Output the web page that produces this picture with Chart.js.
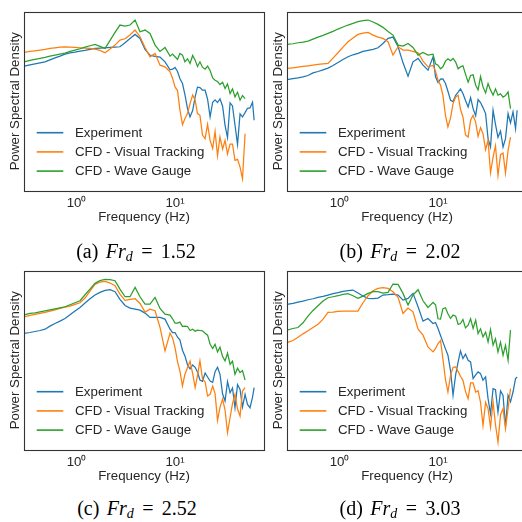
<!DOCTYPE html>
<html>
<head>
<meta charset="utf-8">
<script src="https://cdn.jsdelivr.net/npm/chart.js@4.4.1/dist/chart.umd.min.js"></script>
<style>
  html, body { margin: 0; padding: 0; background: #fff; overflow: hidden; width: 522px; height: 522px; }
  #wrap { position: relative; width: 522px; height: 522px; overflow: hidden; }
  canvas { position: absolute; }
  .cap { position: absolute; width: 220px; text-align: center; font-family: "Liberation Serif", "Times New Roman", serif;
         font-size: 20px; line-height: 22px; height: 22px; color: #000; white-space: nowrap; }
  .cap sub { font-size: 0.7em; vertical-align: -0.2em; line-height: 0; }
  .cap .eq { margin: 0 0.42em; }
  .cap .lbl { margin-right: 0.12em; }
</style>
</head>
<body>
<div id="wrap">
  <canvas id="cA" width="272" height="232" style="left:0px;top:0px"></canvas>
  <canvas id="cB" width="272" height="232" style="left:263px;top:0px"></canvas>
  <canvas id="cC" width="272" height="232" style="left:0px;top:259px"></canvas>
  <canvas id="cD" width="272" height="232" style="left:263px;top:259px"></canvas>
</div>
<script>
// ---------------- data ----------------
const seriesLabels = ['Experiment', 'CFD - Visual Tracking', 'CFD - Wave Gauge'];
const panelLetters = ['a', 'b', 'c', 'd'];
const frValues = ['1.52', '2.02', '2.52', '3.03'];
const xTickValues = [1, 10];
const xTickLabels = ['10\u2070', '10\u00B9'];

// frequency (Hz), shared by all panels
const freq = [0.293,0.337,0.379,0.426,0.479,0.538,0.605,0.680,0.764,0.859,
  0.965,1.085,1.22,1.37,1.54,1.73,1.95,2.19,2.46,2.76,
  3.11,3.49,3.93,4.41,4.96,5.57,6.27,7.04,7.91,8.90,
  9.43,10.0,10.6,11.2,11.9,12.6,13.4,14.2,15.1,16.0,
  16.9,17.9,19.0,20.2,21.4,22.7,24.1,25.5,27.0,28.6,
  30.4,32.2,34.1,36.2,38.3,40.6,43.1,45.7,48.4,51.4,
  54.4,57.7,61.2,63.5];

// PSD, relative log units
const expA = [37.2,37.6,37.9,38.2,38.5,39.1,39.7,40.2,40.8,41.2,41.4,41.7,41.9,42.2,42.5,42.6,42.7,42.8,42.9,43.0,
  44.2,45.5,46.7,45.5,42.2,40.5,40.1,39.9,38.5,36.1,36.3,36.8,35.6,33.5,32.0,28.7,24.4,22.0,23.9,28.0,
  30.9,30.8,30.0,30.0,27.3,22.0,26.4,27.1,26.3,27.4,25.2,19.5,15.8,26.2,25.3,19.6,13.8,22.9,22.0,23.3,
  24.6,24.7,26.4,21.0];
const visA = [41.3,41.6,41.8,42.0,42.2,42.5,42.7,42.9,43.0,42.9,42.8,42.7,42.6,42.5,42.3,41.9,41.2,42.3,43.5,45.0,
  45.4,46.5,48.0,46.0,42.8,40.0,41.0,37.5,37.0,35.5,33.6,31.0,29.9,24.2,19.7,21.5,23.1,26.0,28.6,27.0,
  23.0,22.5,16.6,15.5,19.8,15.0,12.6,17.7,10.4,16.0,12.4,15.0,10.9,13.9,13.9,9.0,9.3,7.0,3.5,17.0,
  null,null,null,null];
const gaugeA = [38.5,38.9,39.2,39.5,39.8,40.2,40.5,40.8,41.1,41.6,42.0,42.4,42.9,43.3,43.7,43.1,42.5,44.9,47.3,49.5,
  49.2,49.5,51.0,47.5,48.0,47.0,43.5,41.6,42.8,40.2,40.8,40.0,39.2,41.0,40.5,38.5,39.4,38.0,40.4,39.0,
  37.1,38.5,36.9,36.3,37.2,35.9,33.7,33.0,32.6,31.7,32.4,30.5,31.9,29.0,30.4,28.0,29.4,27.0,28.4,27.5,
  null,null,null,null];

const expB = [33.2,33.5,33.7,34.0,34.4,35.2,35.6,36.1,36.6,37.4,38.3,39.2,40.0,40.6,41.0,41.6,41.9,42.2,42.7,44.0,
  45.5,45.9,43.0,38.2,34.2,38.5,39.5,37.5,36.0,40.0,34.0,32.3,33.3,33.4,32.0,29.7,27.0,26.6,28.5,29.4,
  30.4,29.0,26.9,25.0,27.8,24.5,22.4,27.2,26.3,24.8,23.0,15.5,13.0,24.0,19.8,15.9,17.8,13.0,15.5,23.0,
  20.2,23.5,18.5,24.0];
const visB = [36.5,36.7,36.9,37.1,37.3,37.5,37.7,37.9,38.0,39.6,41.2,42.9,44.5,45.6,46.7,47.1,47.3,46.5,45.9,45.5,
  44.5,40.5,43.0,42.0,42.0,41.6,41.2,38.7,37.0,37.4,35.7,33.0,31.5,28.5,22.5,19.0,21.7,26.0,28.0,28.5,
  24.3,22.0,16.6,16.0,21.0,22.5,20.4,16.2,18.8,17.0,12.2,15.0,5.3,10.0,13.4,4.5,10.7,11.2,5.2,12.0,
  16.0,null,null,null];
const gaugeB = [43.7,43.9,44.2,44.4,44.7,45.3,45.9,46.4,47.0,47.6,48.3,48.9,49.5,50.0,50.5,50.8,51.0,50.4,49.7,48.8,
  47.6,46.5,43.5,43.2,44.0,42.8,40.5,41.3,40.5,40.8,37.9,37.5,36.4,37.0,38.7,39.4,38.8,39.5,38.4,36.4,
  37.0,37.3,34.8,32.4,34.4,34.6,31.5,30.1,34.1,31.0,29.2,32.0,30.1,28.5,30.4,28.5,28.9,27.9,28.4,29.5,
  24.5,null,null,null];

const expC = [34.7,35.0,35.3,35.6,36.0,36.9,37.7,38.4,39.2,40.3,41.4,42.5,43.8,45.1,46.2,47.0,47.6,47.8,47.2,44.9,
  43.1,42.3,42.0,41.7,40.8,39.5,39.5,39.5,39.0,36.0,35.0,35.0,33.6,32.8,29.7,28.0,25.3,24.1,25.3,24.6,
  23.2,20.8,20.4,22.9,21.7,20.5,20.1,23.3,24.6,22.5,16.6,14.5,20.3,17.0,18.4,12.5,19.4,18.0,12.7,16.5,
  13.5,12.5,15.7,18.5];
const visC = [39.7,40.1,40.4,40.7,41.0,41.4,41.8,42.2,42.6,42.9,43.4,43.9,45.3,47.4,49.4,50.1,50.3,49.8,49.0,46.5,
  44.6,44.9,45.1,43.7,41.1,42.0,41.5,36.5,29.5,34.8,33.4,30.5,26.3,23.5,19.0,22.5,24.5,26.4,22.7,18.5,
  22.1,26.5,21.2,20.2,16.0,16.5,19.0,16.7,8.7,12.6,15.1,11.8,5.0,9.5,13.7,16.5,12.1,10.0,17.5,18.5,
  null,null,null,null];
const gaugeC = [40.3,40.7,40.9,41.2,41.5,41.8,42.1,42.4,42.7,43.3,43.9,44.5,46.3,48.0,49.7,50.5,50.9,50.8,50.5,48.0,
  45.7,45.7,48.5,45.7,43.5,43.5,45.5,42.2,40.5,40.2,39.1,37.8,37.8,38.1,36.8,36.9,36.8,35.6,36.0,35.4,
  35.7,35.6,35.5,34.8,34.2,31.5,30.2,31.5,29.2,30.6,27.8,26.5,28.8,25.5,26.4,22.5,24.3,23.0,23.6,20.8,
  null,null,null,null];

const expD = [43.4,43.7,44.1,44.4,44.8,45.1,45.5,45.8,46.2,46.6,46.9,47.3,47.5,47.7,46.8,45.9,45.2,45.1,45.3,46.2,
  46.3,46.5,46.2,44.7,45.2,46.7,42.7,38.4,39.2,37.7,38.0,36.2,34.1,32.2,30.1,28.2,23.5,16.2,22.4,26.2,
  29.5,27.2,28.5,26.7,26.2,21.2,22.3,23.2,22.7,20.7,21.7,15.2,10.7,18.2,17.9,11.2,17.5,16.2,6.9,16.2,
  14.3,17.2,21.2,21.7];
const visD = [32.0,32.6,33.6,34.6,35.5,36.5,37.5,39.0,41.0,41.1,41.3,41.4,41.4,41.4,41.4,43.9,46.0,47.5,48.2,48.4,
  48.2,47.2,45.5,40.7,42.3,41.2,36.0,34.2,30.7,29.2,30.2,31.7,32.6,27.2,20.9,17.2,22.2,24.6,24.7,23.3,
  21.9,20.7,17.4,15.2,19.9,19.9,17.2,17.6,14.1,7.2,14.1,12.2,6.6,14.2,7.4,2.2,10.4,12.2,6.2,12.2,
  18.2,null,null,null];
const gaugeD = [35.7,36.2,36.5,37.9,39.9,41.6,43.0,44.4,45.4,45.7,46.0,46.4,46.6,46.0,45.2,45.9,46.7,47.2,47.2,46.8,
  47.0,49.5,49.4,46.7,43.2,46.2,47.8,44.5,42.5,44.0,43.3,39.1,39.0,42.1,42.4,40.6,39.2,40.2,39.9,37.4,
  37.7,38.9,36.4,37.2,39.1,36.2,38.7,34.7,36.1,33.7,35.1,32.2,35.9,31.2,33.1,29.2,32.1,28.2,31.2,26.7,
  35.7,null,null,null];

const panels = [
  {id: 'cA', series: [expA, visA, gaugeA]},
  {id: 'cB', series: [expB, visB, gaugeB]},
  {id: 'cC', series: [expC, visC, gaugeC]},
  {id: 'cD', series: [expD, visD, gaugeD]}
];

// ---------------- styles ----------------
const colors = ['#1f77b4', '#ff7f0e', '#2ca02c'];
const textColor = '#262626';
const sansFont = {family: '"Liberation Sans", Arial, sans-serif', size: 13.3};

const framePlugin = {
  id: 'frame',
  afterDatasetsDraw(chart) {
    const {ctx, chartArea: a} = chart;
    ctx.save();
    ctx.strokeStyle = '#333333';
    ctx.lineWidth = 1.1;
    ctx.strokeRect(Math.round(a.left) + 0.5, Math.round(a.top) + 0.5,
                   Math.round(a.right - a.left), Math.round(a.bottom - a.top));
    ctx.restore();
  }
};

const insideLegend = {
  id: 'insideLegend',
  afterDraw(chart) {
    const {ctx, chartArea: a} = chart;
    ctx.save();
    ctx.font = '13.3px "Liberation Sans", Arial, sans-serif';
    ctx.textBaseline = 'middle';
    ctx.textAlign = 'left';
    chart.data.datasets.forEach((ds, i) => {
      const y = a.top + 120.7 + i * 19.2;
      ctx.strokeStyle = ds.borderColor;
      ctx.lineWidth = 1.6;
      ctx.beginPath();
      ctx.moveTo(a.left + 12.7, y);
      ctx.lineTo(a.left + 39.3, y);
      ctx.stroke();
      ctx.fillStyle = textColor;
      ctx.fillText(ds.label, a.left + 51, y + 0.5);
    });
    ctx.restore();
  }
};

function makeChart(p) {
  const datasets = p.series.map((vals, i) => ({
    label: seriesLabels[i],
    data: vals,
    borderColor: colors[i],
    backgroundColor: colors[i],
    borderWidth: 1.25,
    pointRadius: 0,
    tension: 0,
    spanGaps: false,
    order: 3 - i
  }));
  return new Chart(document.getElementById(p.id), {
    type: 'line',
    data: {labels: freq, datasets},
    options: {
      responsive: false,
      animation: false,
      devicePixelRatio: 1,
      layout: {padding: {top: 12, right: 8, bottom: 0, left: 0}},
      plugins: {legend: {display: false}, tooltip: {enabled: false}},
      scales: {
        x: {
          type: 'logarithmic',
          min: 0.293, max: 80,
          grid: {display: false, drawTicks: false},
          border: {display: false},
          afterBuildTicks: (s) => { s.ticks = xTickValues.map(v => ({value: v})); },
          ticks: {
            autoSkip: false, maxRotation: 0, padding: 5,
            color: textColor, font: sansFont,
            callback: (v) => { const k = xTickValues.indexOf(v); return k >= 0 ? xTickLabels[k] : ''; }
          },
          title: {display: true, text: 'Frequency (Hz)', color: textColor, font: sansFont,
                  padding: {top: 0, bottom: 6.5}},
          afterFit: (s) => { s.height = 41.5; }
        },
        y: {
          type: 'linear', min: 0, max: 53.4,
          grid: {display: false, drawTicks: false},
          border: {display: false},
          ticks: {display: false},
          title: {display: true, text: 'Power Spectral Density', color: textColor, font: sansFont,
                  padding: {top: 7.5, bottom: 0}},
          afterFit: (s) => { s.width = 24; }
        }
      }
    },
    plugins: [framePlugin, insideLegend]
  });
}

panels.forEach(makeChart);

// captions
const capPos = [{cx: 136, top: 239.5}, {cx: 400, top: 239.5}, {cx: 137, top: 496.5}, {cx: 400, top: 496.5}];
const wrap = document.getElementById('wrap');
panelLetters.forEach((L, i) => {
  const d = document.createElement('div');
  d.className = 'cap';
  d.style.left = (capPos[i].cx - 110) + 'px';
  d.style.top = capPos[i].top + 'px';
  d.innerHTML = '<span class="lbl">(' + L + ')</span> <i>Fr</i><sub><i>d</i></sub><span class="eq">=</span>' + frValues[i];
  wrap.appendChild(d);
});
</script>
</body>
</html>
